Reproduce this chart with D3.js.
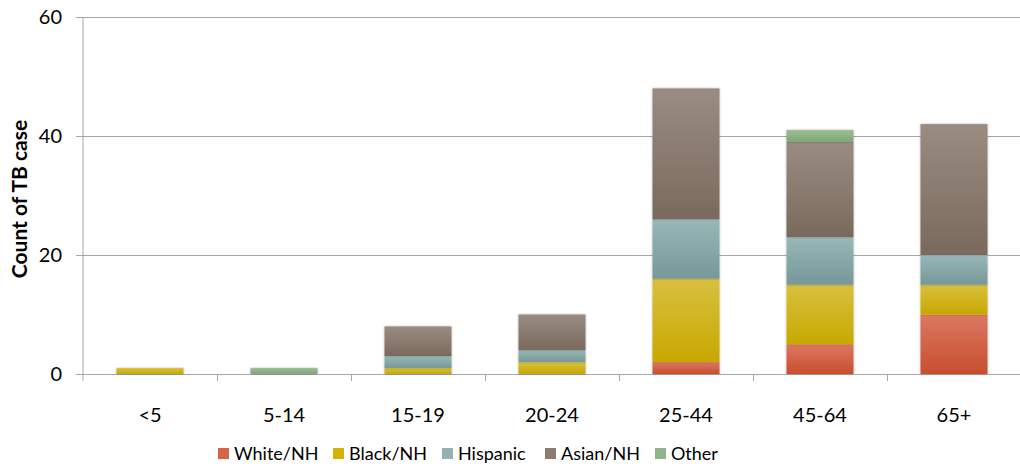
<!DOCTYPE html>
<html><head><meta charset="utf-8">
<script src="https://cdn.jsdelivr.net/npm/d3@7"></script>
<style>body{margin:0;background:#fff;} svg{display:block;font-family:Lato,"Open Sans",sans-serif;}</style>
</head><body><svg id="c" width="1020" height="470"></svg>
<script>
const categories = ["<5","5-14","15-19","20-24","25-44","45-64","65+"];
const seriesNames = ["White/NH","Black/NH","Hispanic","Asian/NH","Other"];
const whiteNH  = [0,0,0,0,2,5,10];
const blackNH  = [1,0,1,2,14,10,5];
const hispanic = [0,0,2,2,10,8,5];
const asianNH  = [0,0,5,6,22,16,22];
const other    = [0,1,0,0,0,2,0];
const yTicks = [0,20,40,60];
const colors = [
  {top:"#dc7862", bot:"#c84e2e", sw:"#d9624a"},
  {top:"#d8c040", bot:"#c8a800", sw:"#d4b400"},
  {top:"#98b8b8", bot:"#769898", sw:"#93b3b3"},
  {top:"#9a8c82", bot:"#7a695d", sw:"#8c7b70"},
  {top:"#9cbd94", bot:"#7ea776", sw:"#90b58a"}
];
const seriesVals = [whiteNH, blackNH, hispanic, asianNH, other];

const svg = d3.select("#c");
const m = {l:83, r:1021, t:17, b:374};
const x = d3.scaleBand().domain(categories).range([m.l, m.r]).paddingInner(0.5).paddingOuter(0.25);
const xb = d3.scaleBand().domain(categories).range([m.l, m.r]);
const y = d3.scaleLinear().domain([0,60]).range([m.b, m.t]);

const defs = svg.append("defs");
colors.forEach((c,i)=>{
  const g = defs.append("linearGradient").attr("id","g"+i).attr("x1",0).attr("x2",0).attr("y1",0).attr("y2",1);
  g.append("stop").attr("offset","0%").attr("stop-color",c.top);
  g.append("stop").attr("offset","100%").attr("stop-color",c.bot);
});
const f = defs.append("filter").attr("id","sh").attr("x","-10%").attr("y","-10%").attr("width","120%").attr("height","120%");
f.append("feDropShadow").attr("dx",0).attr("dy",0).attr("stdDeviation",1.2).attr("flood-color","#000").attr("flood-opacity",0.3);

// gridlines
svg.append("g").selectAll("line").data(yTicks.filter(d=>d>0)).join("line")
  .attr("x1",m.l).attr("x2",m.r).attr("y1",d=>y(d)).attr("y2",d=>y(d))
  .attr("stroke","#a6a6a6").attr("stroke-width",1).attr("shape-rendering","crispEdges");

// y axis
const ya = svg.append("g").attr("transform",`translate(${m.l},0)`)
  .call(d3.axisLeft(y).tickValues(yTicks).tickSize(7).tickPadding(14));
ya.select(".domain").attr("stroke","#a6a6a6").attr("d",`M-0,${m.t}V${m.b+7}`);
ya.selectAll(".tick line").attr("stroke","#a6a6a6");
ya.selectAll("text").attr("font-size","20px").attr("fill","#000").attr("font-family","Lato,sans-serif");

// x axis
const xa = svg.append("g").attr("transform",`translate(0,${m.b})`);
xa.append("line").attr("x1",m.l).attr("x2",m.r).attr("y1",0).attr("y2",0).attr("stroke","#a6a6a6").attr("shape-rendering","crispEdges");
xa.selectAll(".bt").data(categories.slice(1).concat(["end"])).join("line").attr("class","bt")
  .attr("x1",(d,i)=>xb(categories[0])+ (i+1)*xb.bandwidth()).attr("x2",(d,i)=>xb(categories[0])+(i+1)*xb.bandwidth())
  .attr("y1",0).attr("y2",7).attr("stroke","#a6a6a6").attr("shape-rendering","crispEdges");
xa.selectAll("text").data(categories).join("text")
  .attr("x",d=>x(d)+x.bandwidth()/2).attr("y",48).attr("text-anchor","middle")
  .attr("font-size","20px").attr("fill","#000").text(d=>d);

// stacked bars
const table = categories.map((c,i)=>{const o={cat:c}; seriesNames.forEach((s,j)=>o[s]=seriesVals[j][i]); return o;});
const stack = d3.stack().keys(seriesNames)(table);
const bars = svg.append("g");
stack.forEach((layer,li)=>{
  bars.append("g").selectAll("rect").data(layer.filter(d=>d[1]-d[0]>0)).join("rect")
    .attr("x",d=>x(d.data.cat)).attr("width",x.bandwidth())
    .attr("y",d=>y(d[1])).attr("height",d=>y(d[0])-y(d[1]))
    .attr("fill",`url(#g${li})`).attr("filter","url(#sh)");
});

// y title
svg.append("text").attr("transform","translate(27,199) rotate(-90)").attr("text-anchor","middle")
  .attr("font-size","21px").attr("font-weight","bold").attr("fill","#000").text("Count of TB case");

// legend
const legX = [218,333,442,545,655];
const lg = svg.append("g");
seriesNames.forEach((s,i)=>{
  lg.append("rect").attr("x",legX[i]).attr("y",448).attr("width",11).attr("height",11).attr("fill",colors[i].sw);
  lg.append("text").attr("x",legX[i]+16).attr("y",460).attr("font-size","18px").attr("fill","#000").text(s);
});
</script></body></html>
